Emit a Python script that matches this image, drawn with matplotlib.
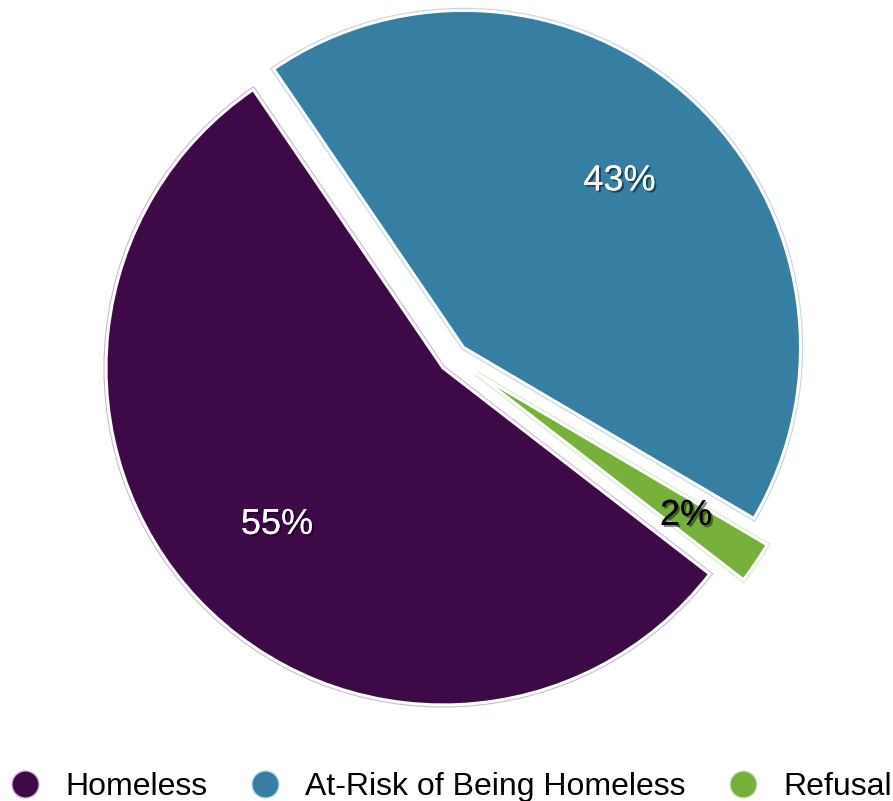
import matplotlib.pyplot as plt
import matplotlib.patheffects as pe
from matplotlib.lines import Line2D

plt.rcParams['font.family'] = ['Liberation Sans', 'DejaVu Sans']

labels = ["Homeless", "At-Risk of Being Homeless", "Refusal"]
values = [55, 43, 2]
colors = ["#3d0a47", "#367fa3", "#77b03b"]
rims = ["#cdb9d4", "#bcd9e8", "#d9ebc8"]
text_colors = ["white", "white", "black"]
explode = [14.5, 14.5, 28]  # in pixels, matplotlib takes it in data units

# drawing order around the pie (counter clockwise from the top-left edge)
order = [0, 2, 1]

fig = plt.figure(figsize=(8.93, 8.01), dpi=100)
ax = fig.add_axes([0, 0, 1, 1])

cx, cy, r = 453.6, 443, 337
vals = [values[i] for i in order]
expl = [explode[i] for i in order]

# faint coloured rim, then white border on top
rim_wedges, _ = ax.pie(vals, colors=[rims[i] for i in order], explode=expl,
                       startangle=124.3, counterclock=True, center=(cx, cy),
                       radius=r, wedgeprops=dict(linewidth=3.8))
for w, i in zip(rim_wedges, order):
    w.set_edgecolor(rims[i])

wedges, _, autotexts = ax.pie(
    vals, colors=[colors[i] for i in order], explode=expl, startangle=124.3,
    counterclock=True, center=(cx, cy), radius=r, autopct='%1.0f%%',
    pctdistance=0.677,
    wedgeprops=dict(edgecolor="white", linewidth=2.2),
    textprops=dict(fontsize=26))

shadow = [pe.withSimplePatchShadow(offset=(1.5, -1.5), shadow_rgbFace='black', alpha=0.45),
          pe.Normal()]
for k, i in enumerate(order):
    t = autotexts[k]
    t.set_color(text_colors[i])
    t.set_path_effects(shadow)
    if labels[i] == "Refusal":
        x, y = t.get_position()
        ox, oy = wedges[k].center
        t.set_position((ox + (x - ox) * 0.75 / 0.677, oy + (y - oy) * 0.75 / 0.677))

ax.set_xlim(0, 893)
ax.set_ylim(0, 801)
ax.set_aspect('equal')
ax.axis('off')

handles = [Line2D([], [], marker='o', linestyle='none', markersize=19.5,
                  markerfacecolor=c, markeredgecolor=rc, markeredgewidth=1)
           for c, rc in zip(colors, rims)]
fig.legend(handles, labels, loc='center left', bbox_to_anchor=(0.011, 0.0173),
           ncol=3, frameon=False, fontsize=23.0, handlelength=0.96,
           handletextpad=0.79, columnspacing=1.30, borderpad=0, borderaxespad=0)

fig.savefig("out.png", dpi=100)
